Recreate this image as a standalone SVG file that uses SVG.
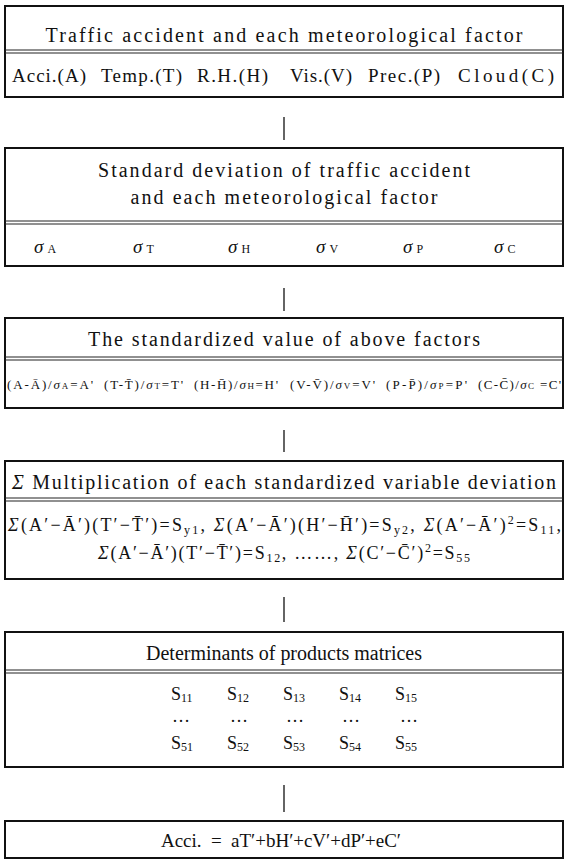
<svg xmlns="http://www.w3.org/2000/svg" width="568" height="862" viewBox="0 0 568 862">
<style>
.box{fill:#fff;stroke:#111;stroke-width:2}
.dl{stroke:#222;stroke-width:1.2}
.cn{stroke:#111;stroke-width:1.3}
text{font-family:"Liberation Serif","Times New Roman",serif;fill:#111}
.t{font-size:20px;text-anchor:middle}
.r{font-size:19px}
.sg{font-size:19px;font-style:italic}
.sb{font-size:12px}
.f{font-size:13px}
.m{font-size:18px}
.mi{font-style:italic}
.pre{white-space:pre}
</style>
<rect width="568" height="862" fill="#fff"/>
<g id="connectors">
<line class="cn" x1="284" y1="117" x2="284" y2="140"/>
<line class="cn" x1="284" y1="288" x2="284" y2="311"/>
<line class="cn" x1="284" y1="430" x2="284" y2="452"/>
<line class="cn" x1="284" y1="597" x2="284" y2="622"/>
<line class="cn" x1="284" y1="785" x2="284" y2="812"/>
</g>
<g id="node1">
<rect class="box" x="5" y="6" width="558" height="91"/>
<line class="dl" x1="5" y1="50" x2="563" y2="50"/>
<line class="dl" x1="5" y1="53" x2="563" y2="53"/>
<text class="t" x="284" y="42" textLength="477" lengthAdjust="spacing">Traffic accident and each meteorological factor</text>
<text class="r" x="12" y="82" textLength="74" lengthAdjust="spacing">Acci.(A)</text>
<text class="r" x="101" y="82" textLength="81" lengthAdjust="spacing">Temp.(T)</text>
<text class="r" x="197" y="82" textLength="71" lengthAdjust="spacing">R.H.(H)</text>
<text class="r" x="290" y="82" textLength="62" lengthAdjust="spacing">Vis.(V)</text>
<text class="r" x="368" y="82" textLength="72" lengthAdjust="spacing">Prec.(P)</text>
<text class="r" x="458" y="82" textLength="96" lengthAdjust="spacing">Cloud(C)</text>
</g>
<g id="node2">
<rect class="box" x="5" y="148" width="558" height="118"/>
<line class="dl" x1="5" y1="221" x2="563" y2="221"/>
<line class="dl" x1="5" y1="224" x2="563" y2="224"/>
<text class="t" x="284" y="177" textLength="372" lengthAdjust="spacing">Standard deviation of traffic accident</text>
<text class="t" x="284" y="204" textLength="307" lengthAdjust="spacing">and each meteorological factor</text>
<text x="34" y="253"><tspan class="sg">σ</tspan><tspan class="sb" dx="4">A</tspan></text>
<text x="133" y="253"><tspan class="sg">σ</tspan><tspan class="sb" dx="4">T</tspan></text>
<text x="228" y="253"><tspan class="sg">σ</tspan><tspan class="sb" dx="4">H</tspan></text>
<text x="316" y="253"><tspan class="sg">σ</tspan><tspan class="sb" dx="4">V</tspan></text>
<text x="403" y="253"><tspan class="sg">σ</tspan><tspan class="sb" dx="4">P</tspan></text>
<text x="494" y="253"><tspan class="sg">σ</tspan><tspan class="sb" dx="4">C</tspan></text>
</g>
<g id="node3">
<rect class="box" x="5" y="318" width="558" height="90"/>
<line class="dl" x1="5" y1="357" x2="563" y2="357"/>
<line class="dl" x1="5" y1="360" x2="563" y2="360"/>
<text class="t" x="284" y="346" textLength="392" lengthAdjust="spacing">The standardized value of above factors</text>
<text class="f" x="7" y="389" textLength="86" lengthAdjust="spacing">(A-Ā)/<tspan class="mi">σ</tspan><tspan font-size="9">A</tspan>=A'</text>
<text class="f" x="104" y="389" textLength="79" lengthAdjust="spacing">(T-T̄)/<tspan class="mi">σ</tspan><tspan font-size="9">T</tspan>=T'</text>
<text class="f" x="194" y="389" textLength="84" lengthAdjust="spacing">(H-H̄)/<tspan class="mi">σ</tspan><tspan font-size="9">H</tspan>=H'</text>
<text class="f" x="290" y="389" textLength="85" lengthAdjust="spacing">(V-V̄)/<tspan class="mi">σ</tspan><tspan font-size="9">V</tspan>=V'</text>
<text class="f" x="386" y="389" textLength="81" lengthAdjust="spacing">(P-P̄)/<tspan class="mi">σ</tspan><tspan font-size="9">P</tspan>=P'</text>
<text class="f" x="478" y="389" textLength="83" lengthAdjust="spacing">(C-C̄)/<tspan class="mi">σ</tspan><tspan font-size="9">C</tspan> =C'</text>
</g>
<g id="node4">
<rect class="box" x="5" y="461" width="558" height="118"/>
<line class="dl" x1="5" y1="498" x2="563" y2="498"/>
<line class="dl" x1="5" y1="501" x2="563" y2="501"/>
<text class="t" x="284" y="489" textLength="544" lengthAdjust="spacing"><tspan class="mi">Σ</tspan> Multiplication of each standardized variable deviation</text>
<text class="m" x="8" y="531" textLength="553" lengthAdjust="spacing"><tspan class="mi">Σ</tspan>(A′−Ā′)(T′−T̄′)=S<tspan font-size="12" dy="3">y1</tspan><tspan dy="-3">,  </tspan><tspan class="mi">Σ</tspan>(A′−Ā′)(H′−H̄′)=S<tspan font-size="12" dy="3">y2</tspan><tspan dy="-3">,  </tspan><tspan class="mi">Σ</tspan>(A′−Ā′)<tspan font-size="12" dy="-7">2</tspan><tspan dy="7">=S</tspan><tspan font-size="12" dy="3">11</tspan><tspan dy="-3">,</tspan></text>
<text class="m" x="98" y="559" textLength="372" lengthAdjust="spacing"><tspan class="mi">Σ</tspan>(A′−Ā′)(T′−T̄′)=S<tspan font-size="12" dy="3">12</tspan><tspan dy="-3">,  ……,  </tspan><tspan class="mi">Σ</tspan>(C′−C̄′)<tspan font-size="12" dy="-7">2</tspan><tspan dy="7">=S</tspan><tspan font-size="12" dy="3">55</tspan></text>
</g>
<g id="node5">
<rect class="box" x="5" y="632" width="558" height="135"/>
<line class="dl" x1="5" y1="670" x2="563" y2="670"/>
<line class="dl" x1="5" y1="673" x2="563" y2="673"/>
<text class="t" x="284" y="660" textLength="276" lengthAdjust="spacing">Determinants of products matrices</text>
<g id="matrix">
<text class="m" x="171" y="700">S<tspan font-size="12" dy="2">11</tspan></text>
<text class="m" x="227" y="700">S<tspan font-size="12" dy="2">12</tspan></text>
<text class="m" x="283" y="700">S<tspan font-size="12" dy="2">13</tspan></text>
<text class="m" x="339" y="700">S<tspan font-size="12" dy="2">14</tspan></text>
<text class="m" x="395" y="700">S<tspan font-size="12" dy="2">15</tspan></text>
<text class="m" x="172" y="722">…</text>
<text class="m" x="230" y="722">…</text>
<text class="m" x="286" y="722">…</text>
<text class="m" x="342" y="722">…</text>
<text class="m" x="400" y="722">…</text>
<text class="m" x="171" y="749">S<tspan font-size="12" dy="2">51</tspan></text>
<text class="m" x="227" y="749">S<tspan font-size="12" dy="2">52</tspan></text>
<text class="m" x="283" y="749">S<tspan font-size="12" dy="2">53</tspan></text>
<text class="m" x="339" y="749">S<tspan font-size="12" dy="2">54</tspan></text>
<text class="m" x="395" y="749">S<tspan font-size="12" dy="2">55</tspan></text>
</g>
</g>
<g id="node6">
<rect class="box" x="5" y="821" width="558" height="37"/>
<text class="r pre" x="161" y="847" textLength="240" lengthAdjust="spacing">Acci.  =  aT′+bH′+cV′+dP′+eC′</text>
</g>
</svg>
